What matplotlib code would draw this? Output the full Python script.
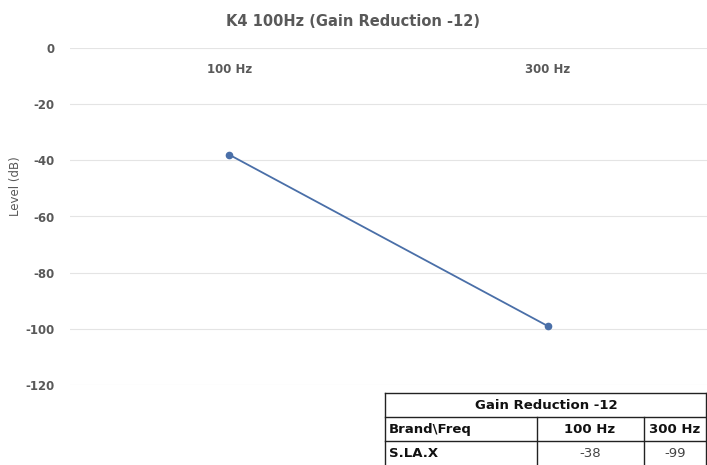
import matplotlib
matplotlib.use("Agg")
import matplotlib.pyplot as plt

# data
freqs = ["100 Hz", "300 Hz"]
levels = [-38, -99]
brand = "S.LA.X"
table_title = "Gain Reduction -12"
yticks = [0, -20, -40, -60, -80, -100, -120]

fig = plt.figure(figsize=(7.07, 4.65), dpi=100)
ax = fig.add_axes([70/707, (465-385)/465, 637/707, 337/465])

xs = [i + 0.5 for i in range(len(freqs))]
ax.plot(xs, levels, color="#4a6fa8", linewidth=1.3, marker="o", markersize=4.5, zorder=3)

ax.set_xlim(0, len(freqs))
ax.set_ylim(-120, 0)
ax.set_yticks(yticks)
ax.set_yticklabels([str(v) for v in yticks], color="#595959", fontsize=8.5, fontweight="bold")
ax.grid(axis="y", color="#e4e4e4", linewidth=0.8)
ax.tick_params(axis="y", length=0, pad=11)
ax.set_xticks([])
for s in ax.spines.values():
    s.set_visible(False)

# category labels sit just under the zero line
for x, lab in zip(xs, freqs):
    ax.text(x, -7.5, lab, ha="center", va="center", fontsize=8.5, color="#595959", fontweight="bold")

fig.text(15/707, 1 - 186/465, "Level (dB)", rotation=90, ha="center", va="center",
         color="#595959", fontsize=8.5)
fig.text(0.5, 1 - 22/465, "K4 100Hz (Gain Reduction -12)", ha="center", va="center",
         fontsize=10.5, color="#595959", fontweight="bold")

# data table in the lower right corner
tx = fig.add_axes([385/707, 0, 322/707, 72/465])
tx.set_xlim(385, 707)
tx.set_ylim(465, 393)
tx.axis("off")
lc = "#222222"
for y in [393, 417, 441]:
    tx.plot([385, 707], [y, y], color=lc, linewidth=1, clip_on=False)
tx.plot([385, 385], [393, 465], color=lc, linewidth=1, clip_on=False)
tx.plot([706, 706], [393, 465], color=lc, linewidth=1, clip_on=False)
for x in [537, 644]:
    tx.plot([x, x], [417, 465], color=lc, linewidth=1, clip_on=False)
tx.text(546, 405, table_title, ha="center", va="center", fontsize=9.5, fontweight="bold", color="#111111")
tx.text(389, 429, "Brand\\Freq", ha="left", va="center", fontsize=9.5, fontweight="bold", color="#111111")
tx.text(389, 453, brand, ha="left", va="center", fontsize=9.5, fontweight="bold", color="#111111")
centers = [590, 675]
for cx, f, v in zip(centers, freqs, levels):
    tx.text(cx, 429, f, ha="center", va="center", fontsize=9.5, fontweight="bold", color="#111111")
    tx.text(cx, 453, str(v), ha="center", va="center", fontsize=9.5, color="#444444")

fig.savefig("out.png", dpi=100)
